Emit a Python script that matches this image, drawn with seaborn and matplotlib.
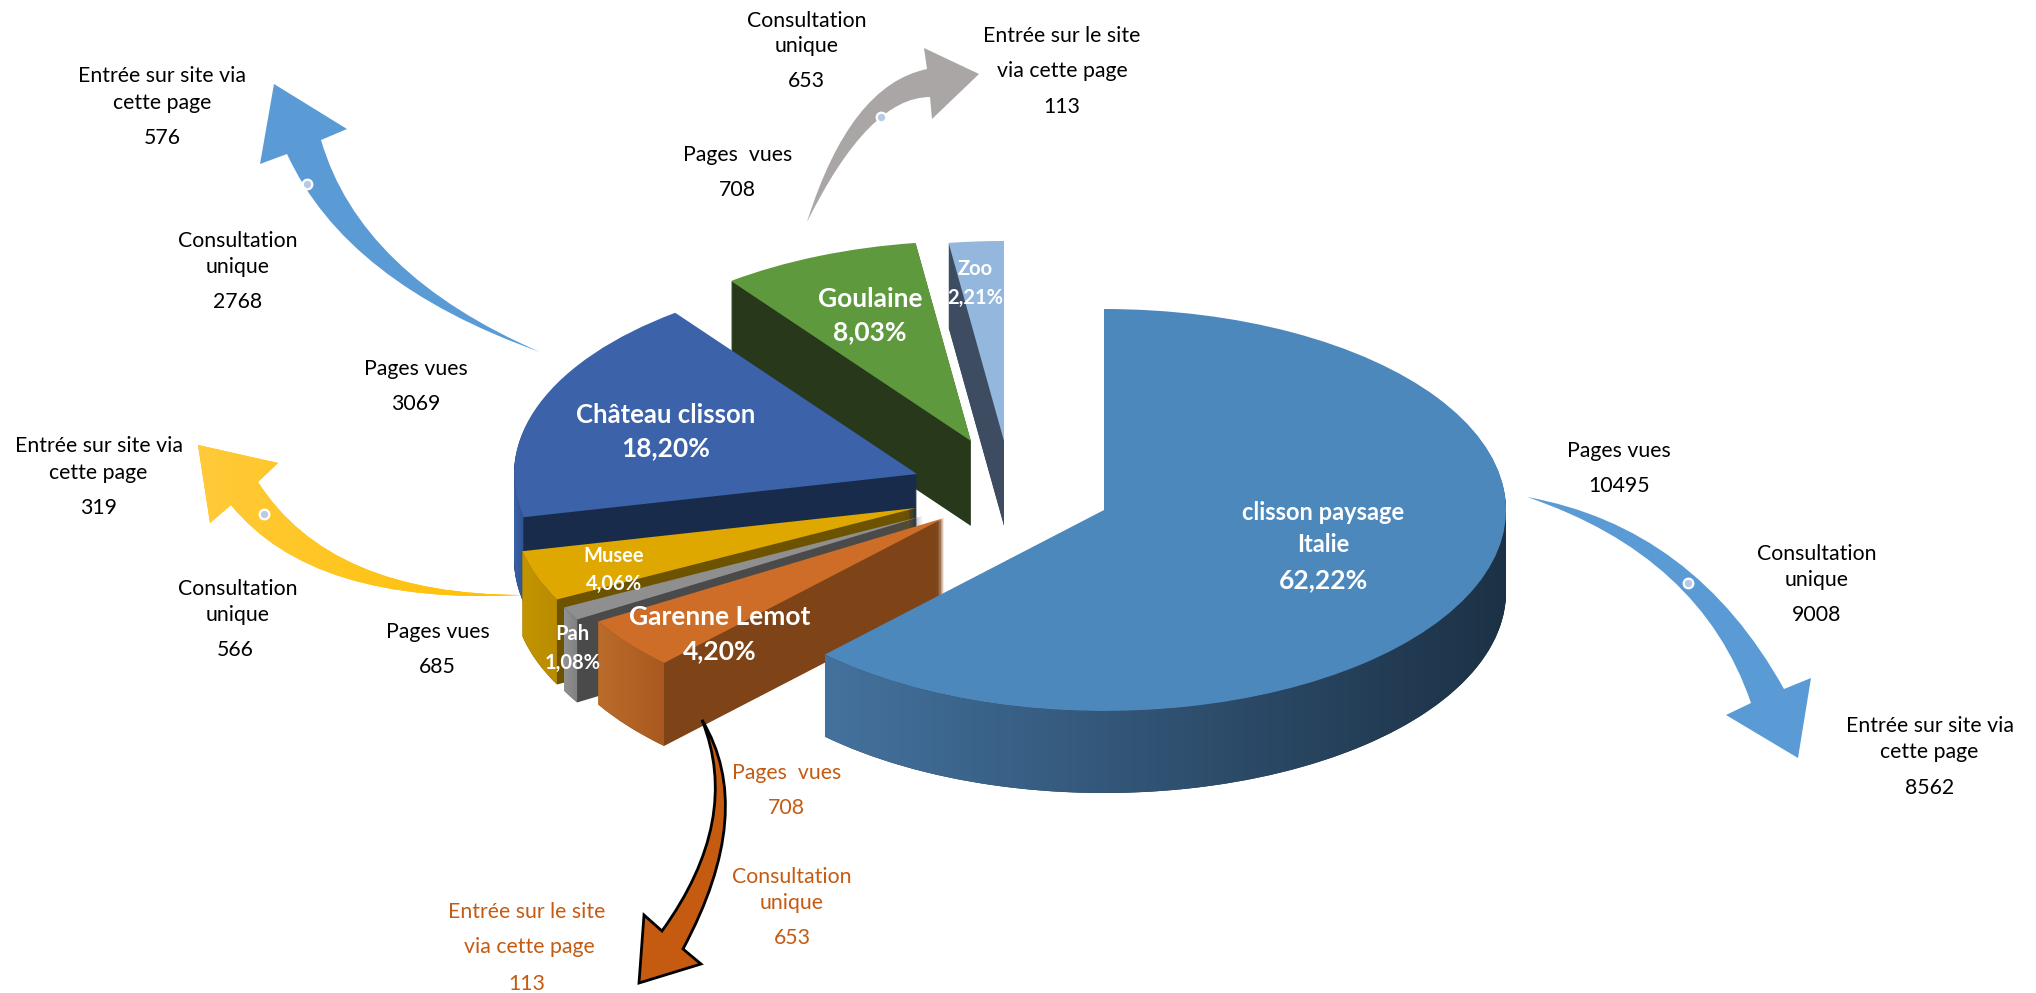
import numpy as np
import matplotlib
matplotlib.use("Agg")
import matplotlib.pyplot as plt
import seaborn as sns
from matplotlib.colors import LinearSegmentedColormap
from matplotlib.patches import PathPatch, Polygon
from matplotlib.path import Path

W, H = 2036, 993
SQUASH = 2  # the pie is seen tilted: one y pixel is two data units

# chart data
slices = ["clisson paysage\nItalie", "Garenne Lemot", "Pah", "Musee",
          "Château clisson", "Goulaine", "Zoo"]
shares = [62.22, 4.20, 1.08, 4.06, 18.20, 8.03, 2.21]
pages_vues = [10495, 708, None, 685, 3069, 708, None]
consultation = [9008, 653, None, 566, 2768, 653, None]
entree = [8562, 113, None, 319, 576, 113, None]

# where each slice sits on the page
apex_x = [1104, 944, 923, 916, 917, 971, 1004]
apex_y = [510, 518, 516, 508, 474, 441, 441]
depth = [82, 83, 83, 85, 85, 85, 85]
radius = [402, 403, 403, 403, 403, 400, 400]

top_col = sns.color_palette(["#4d88bc", "#cd6d27", "#8f8f8f", "#dea800", "#3c62a9", "#5f993e", "#94b7dd"])
cut_col = sns.color_palette(["#1e3449", "#7e4418", "#4a4a4a", "#6d5300", "#182b4b", "#27391a", "#3d4c60"])
wall_left = ["#44729e", "#bb6c2b", "#929292", "#c49500", "#3a62a8", "#4f8033", "#7d9cc0"]
wall_right = ["#1c3145", "#a9591f", "#7f7f7f", "#b98c00", "#2f5390", "#3f6a29", "#6b89ab"]

order = [6, 5, 4, 3, 2, 1, 0]


def yd(py):
    return (H - py) * SQUASH


def gradient(clip, extent, left, right, zorder):
    cmap = LinearSegmentedColormap.from_list("w", [left, right])
    im = ax.imshow(np.linspace(0, 1, 256)[None, :], cmap=cmap, aspect="auto",
                   zorder=zorder, extent=extent)
    im.set_clip_path(clip)


sns.set_theme(style="white")
plt.rcParams["font.family"] = ["Lato", "DejaVu Sans"]
fig = plt.figure(figsize=(W / 100, H / 100), dpi=100)
ax = fig.add_axes([0, 0, 1, 1])

z = 2
start = np.cumsum([0] + shares[:-1]) * 3.6
for i in order:
    share = shares[i]
    r = radius[i]
    cx, cy = apex_x[i], yd(apex_y[i])
    a0 = 90 - start[i]
    # extrusion, one pixel at a time
    for d in range(depth[i], 0, -1):
        ax.pie([share, 100 - share], radius=r, center=(cx, cy - d * SQUASH),
               startangle=a0, counterclock=False,
               colors=[cut_col[i], (0, 0, 0, 0)],
               wedgeprops={"linewidth": 0, "zorder": z}, frame=True)
    z += 1
    # outer wall with its gradient, front part only
    t0, t1 = max(start[i], 90), min(start[i] + share * 3.6, 270)
    if t0 < t1:
        th = np.radians(np.linspace(t0, t1, 120))
        xs = cx + r * np.sin(th)
        ys = cy + r * np.cos(th)
        d2 = depth[i] * SQUASH
        poly = np.r_[np.c_[xs, ys], np.c_[xs, ys - d2][::-1]]
        clip = Polygon(poly, closed=True, transform=ax.transData)
        gradient(clip, (xs.min(), xs.max(), ys.min() - d2, ys.max()), wall_left[i], wall_right[i], z)
    z += 1
    # top face
    ax.pie([share, 100 - share], radius=r, center=(cx, cy),
           startangle=a0, counterclock=False,
           colors=[top_col[i], (0, 0, 0, 0)],
           wedgeprops={"linewidth": 0, "zorder": z}, frame=True)
    z += 1

ax.set_aspect("auto")
ax.set_xlim(0, W)
ax.set_ylim(0, H * SQUASH)
ax.axis("off")


def curved_arrow(tail, c_a, base_a, barb_a, tip, barb_b, base_b, c_b, dot=None,
                 color="#5b9bd5", edge="none", lw=0, fade=None):
    pts = [tail, c_a, base_a, barb_a, tip, barb_b, base_b, c_b, tail, tail]
    codes = [Path.MOVETO, Path.CURVE3, Path.CURVE3, Path.LINETO, Path.LINETO,
             Path.LINETO, Path.LINETO, Path.CURVE3, Path.CURVE3, Path.CLOSEPOLY]
    verts = [(x, yd(y)) for x, y in pts]
    patch = PathPatch(Path(verts, codes), facecolor=color, edgecolor=edge,
                      linewidth=lw, zorder=100, joinstyle="miter")
    ax.add_patch(patch)
    if fade is not None:
        xs = [v[0] for v in verts]
        ys = [v[1] for v in verts]
        gradient(patch, (min(xs), max(xs), min(ys), max(ys)), fade, color, 100)
    if dot is not None:
        ax.scatter([dot[0]], [yd(dot[1])], s=48, facecolor="#b7cbe8", edgecolor="white",
                   linewidth=1.6, zorder=101)


curved_arrow((540, 352), (346, 283), (287, 154), (260, 164), (274, 84), (347, 129),
             (321, 140), (360, 274), dot=(307, 184))
curved_arrow((1527, 497), (1694, 527), (1784, 689), (1811, 678), (1798, 758), (1726, 715),
             (1751, 703), (1701, 556), dot=(1688, 583))
curved_arrow((807, 222), (850, 85), (927, 69), (924, 48), (979, 74), (932, 119),
             (930, 97), (869, 97), dot=(881, 117), color="#a9a6a5")
curved_arrow((523, 595), (330, 595), (258, 482), (278, 463), (198, 445), (210, 523),
             (231, 505), (313, 606), dot=(264, 514), color="#ffc000", fade="#ffca3a")
curved_arrow((702, 720), (757, 811), (683, 949), (701, 964), (639, 983), (644, 915),
             (662, 931), (742, 820), color="#c55a11", edge="black", lw=2)


def txt(x, y, s, color="black", size=15.3, weight="normal"):
    # positions at 1568 px wide, hence the factor
    ax.text(x * W / 1568, yd((y + 1.5) * W / 1568), s, color=color, fontsize=size, fontweight=weight,
            ha="center", va="center", zorder=200)


# black callouts
txt(621, 15, "Consultation"); txt(621, 34, "unique"); txt(621, 61, str(consultation[5]))
txt(818, 26, "Entrée sur le site"); txt(818, 53, "via cette page"); txt(818, 81, str(entree[5]))
txt(568, 118, "Pages  vues"); txt(568, 145, str(pages_vues[5]))
txt(125, 57, "Entrée sur site via"); txt(125, 78, "cette page"); txt(125, 105, str(entree[4]))
txt(183, 184, "Consultation"); txt(183, 204, "unique"); txt(183, 231, str(consultation[4]))
txt(320, 283, "Pages vues"); txt(320, 310, str(pages_vues[4]))
txt(76, 342, "Entrée sur site via"); txt(76, 363, "cette page"); txt(76, 390, str(entree[3]))
txt(183, 452, "Consultation"); txt(183, 472, "unique"); txt(181, 499, str(consultation[3]))
txt(337, 485, "Pages vues"); txt(337, 512, str(pages_vues[3]))
txt(1247, 346, "Pages vues"); txt(1247, 373, str(pages_vues[0]))
txt(1399, 425, "Consultation"); txt(1399, 445, "unique"); txt(1399, 472, str(consultation[0]))
txt(1486, 558, "Entrée sur site via"); txt(1486, 578, "cette page"); txt(1486, 605, str(entree[0]))

# orange callouts
OR = "#c55a11"
txt(606, 594, "Pages  vues", OR); txt(606, 621, str(pages_vues[1]), OR)
txt(610, 674, "Consultation", OR); txt(610, 694, "unique", OR); txt(610, 721, str(consultation[1]), OR)
txt(406, 701, "Entrée sur le site", OR); txt(408, 728, "via cette page", OR); txt(406, 756, str(entree[1]), OR)


def pct(v):
    return f"{v:.2f}%".replace(".", ",")


# slice labels
txt(1019, 393, "clisson paysage", "white", 17, "bold"); txt(1019, 418, "Italie", "white", 17, "bold")
txt(1019, 445, pct(shares[0]), "white", 19, "bold")
txt(513, 318, slices[4], "white", 18.5, "bold"); txt(513, 344, pct(shares[4]), "white", 19, "bold")
txt(670, 229, slices[5], "white", 19, "bold"); txt(670, 254, pct(shares[5]), "white", 19, "bold")
txt(751, 206, slices[6], "white", 14.5, "bold"); txt(751, 228, pct(shares[6]), "white", 14.5, "bold")
txt(473, 427, slices[3], "white", 14.5, "bold"); txt(473, 448, pct(shares[3]), "white", 14.5, "bold")
txt(441, 487, slices[2], "white", 14.5, "bold"); txt(441, 509, pct(shares[2]), "white", 14.5, "bold")
txt(554, 474, slices[1], "white", 19, "bold"); txt(554, 500, pct(shares[1]), "white", 19, "bold")

fig.savefig("out.png", dpi=100)
